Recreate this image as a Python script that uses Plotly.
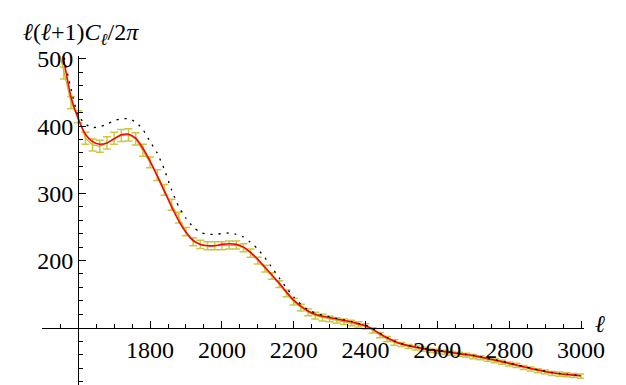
import plotly.graph_objects as go

# multipole bin centres
ell = [1540, 1560, 1580, 1600, 1620, 1640, 1660, 1680, 1700, 1720,
       1740, 1760, 1780, 1800, 1820, 1840, 1860, 1880, 1900, 1920,
       1940, 1960, 1980, 2000, 2020, 2040, 2060, 2080, 2100, 2120,
       2140, 2160, 2180, 2200, 2220, 2240, 2260, 2280, 2300, 2320,
       2340, 2360, 2380, 2400, 2420, 2440, 2460, 2480, 2500, 2520,
       2540, 2560, 2580, 2600, 2620, 2640, 2660, 2680, 2700, 2720,
       2740, 2760, 2780, 2800, 2820, 2840, 2860, 2880, 2900, 2920,
       2940, 2960, 2980, 3000]

# measured band powers
data_vals = [528, 479, 435, 414, 382, 372, 370, 375, 382, 386,
             387, 381, 364, 346, 327, 305, 283, 264, 243, 228,
             224, 222, 222, 222, 223, 223, 219, 211, 200, 188,
             177, 165, 151, 139, 130, 123, 118, 115, 113, 111,
             109, 107, 105, 102, 96, 89, 83, 78, 75, 72,
             70, 68, 66, 65, 63.5, 62, 60.5, 59, 57, 55.5,
             53, 51, 48.5, 46, 44, 41, 38.5, 36, 34, 32,
             31, 30, 29, 28]

data_err = [9, 9, 9, 9, 9, 9, 9, 9, 9, 9,
            9, 9, 9, 8, 8, 8, 8, 8, 6, 6,
            6, 6, 6, 6, 6, 6, 6, 6, 5, 5,
            5, 5, 5, 5, 5, 5, 5, 5, 4, 4,
            4, 4, 4, 4, 4, 4, 4, 4, 3, 3,
            3, 3, 3, 3, 3, 3, 3, 3, 3, 3,
            3, 3, 3, 3, 3, 3, 3, 3, 3, 3,
            3, 3, 3, 3]

# best-fit model (red)
model_red = [545, 497, 443, 411, 388, 377, 373, 375, 381, 387,
             388, 382, 367, 348, 326, 303, 280, 259, 242, 230,
             224, 222, 222, 224, 225, 224, 220, 212, 202, 190,
             178, 166, 153, 141, 132, 125, 120, 117, 115, 113,
             111, 109, 106, 103, 98, 91, 85, 80, 76, 73,
             71, 69, 67, 66, 64.5, 63, 61.5, 60, 58.5, 56.5,
             54, 52, 49.5, 47, 44.5, 42, 39.5, 37, 35, 33,
             31.5, 30.5, 29.5, 28.5]

# alternative model (black dotted)
model_black = [560, 505, 455, 416, 403, 398, 399, 403, 408, 411,
               411, 406, 395, 377, 360, 335, 305, 280, 263, 250,
               242, 239, 239, 240, 241, 239, 235, 227, 217, 204,
               189, 174, 159, 146, 135, 127, 122, 119, 116.5, 114,
               112, 109.5, 106.5, 104, 99, 92, 85.5, 80.5, 76.5, 73.5,
               71.5, 69.5, 67.5, 66.5, 65, 63.5, 62, 60.5, 59, 57,
               54.5, 52.5, 50, 47.5, 45, 42.5, 40, 37.5, 35.5, 33.5,
               32, 31, 30, 29]

x_major = [1800, 2000, 2200, 2400, 2600, 2800, 3000]
x_minor = [1550, 1650, 1700, 1750, 1850, 1900, 1950, 2050, 2100, 2150,
           2250, 2300, 2350, 2450, 2500, 2550, 2650, 2700, 2750,
           2850, 2900, 2950]
y_major = [200, 300, 400, 500]
y_minor = [20, 40, 60, 80, 120, 140, 160, 180, 220, 240, 260, 280,
           320, 340, 360, 380, 420, 440, 460, 480]

W, H = 626, 385
serif = "Liberation Serif"

fig = go.Figure()

fig.add_trace(go.Scatter(
    x=ell, y=data_vals, mode="lines",
    line=dict(color="#BDBD2A", width=1.2),
    error_y=dict(type="data", array=data_err, visible=True,
                 color="rgba(190,190,40,0.85)", thickness=1.5, width=4),
    showlegend=False))

fig.add_trace(go.Scatter(
    x=ell, y=model_red, mode="lines",
    line=dict(color="#FF0000", width=1.6, shape="spline", smoothing=0.6),
    showlegend=False))

fig.add_trace(go.Scatter(
    x=ell, y=model_black, mode="lines",
    line=dict(color="#000000", width=1.3, dash="2px,6px",
              shape="spline", smoothing=0.6),
    showlegend=False))

x0_px, x1_px = 35.5, 596.0
xpx = 0.3716
xr0 = 1500
xr1 = xr0 + (x1_px - x0_px) / xpx

ypx = 0.69
ytop_px = 39.3
yr_top = 500 + (42 - ytop_px) / ypx
yr_bot = 500 - (H - 42) / ypx

yaxis_px = x0_px + (1600 - xr0) * xpx
xaxis_frac = (H - (42 + (500 - 100) * ypx)) / H

fig.update_layout(
    width=W, height=H,
    margin=dict(l=0, r=0, t=0, b=0),
    paper_bgcolor="white", plot_bgcolor="white",
    xaxis=dict(
        domain=[x0_px / W, x1_px / W], range=[xr0, xr1],
        anchor="free", position=xaxis_frac, side="bottom",
        showgrid=False, zeroline=False,
        showline=True, linecolor="black", linewidth=1.1,
        tickmode="array", tickvals=x_major,
        ticktext=[str(v) for v in x_major],
        ticks="inside", ticklen=7, tickwidth=1, tickcolor="black",
        minor=dict(tickmode="array", tickvals=x_minor, ticks="inside",
                   ticklen=4, tickwidth=1, tickcolor="black"),
        tickfont=dict(family=serif, size=24, color="#000000"),
    ),
    yaxis=dict(
        domain=[0, (H - ytop_px) / H], range=[yr_bot, yr_top],
        anchor="free", position=yaxis_px / W, side="left",
        showgrid=False, zeroline=False,
        showline=True, linecolor="black", linewidth=1.1,
        tickmode="array", tickvals=y_major,
        ticktext=[str(v) for v in y_major],
        ticks="inside", ticklen=7, tickwidth=1, tickcolor="black",
        minor=dict(tickmode="array", tickvals=y_minor, ticks="inside",
                   ticklen=4, tickwidth=1, tickcolor="black"),
        tickfont=dict(family=serif, size=24, color="#000000"),
    ),
    annotations=[
        dict(text="<i>ℓ</i>(<i>ℓ</i>+1)<i>C</i><sub><i>ℓ</i></sub>/2<i>π</i>",
             xref="paper", yref="paper", x=13 / W, y=1 - 16 / H,
             xanchor="left", yanchor="middle", showarrow=False,
             font=dict(family=serif, size=24, color="#000000")),
        dict(text="<i>ℓ</i>",
             xref="paper", yref="paper", x=613 / W, y=1 - 314 / H,
             xanchor="center", yanchor="middle", showarrow=False,
             font=dict(family=serif, size=24, color="#000000")),
    ],
)

fig.write_html("out.html")
